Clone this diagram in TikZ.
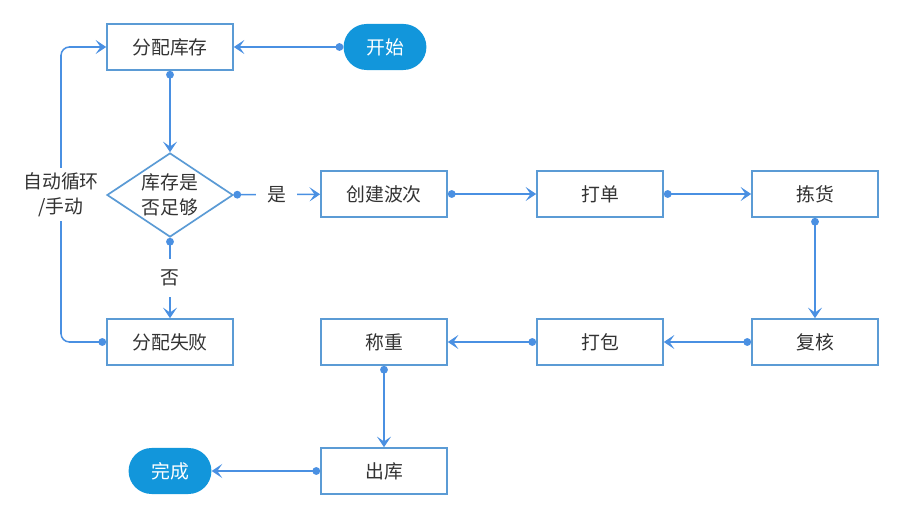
\documentclass[tikz,border=0pt]{standalone}
\usepackage{fontspec}
\setmainfont{Noto Sans CJK SC}
\usepackage{xcolor}
\usetikzlibrary{shapes.geometric,arrows.meta}
\definecolor{boxc}{RGB}{91,155,213}
\definecolor{linec}{RGB}{74,144,226}
\definecolor{pillc}{RGB}{18,150,219}
\definecolor{textc}{RGB}{51,51,51}

\begin{document}
\begin{tikzpicture}[x=0.025cm, y=-0.025cm,
    font=\fontsize{13.4pt}{18pt}\selectfont, text=textc,
    stepbox/.style={rectangle, draw=boxc, line width=1.2pt, fill=white, minimum width=3.15cm, minimum height=1.15cm},
    pill/.style={rectangle, rounded corners=0.575cm, fill=pillc, text=white, minimum width=2.07cm, minimum height=1.15cm},
    check/.style={diamond, draw=boxc, line width=1.2pt, fill=white, inner sep=0pt, shape aspect=1.5, minimum width=3.15cm, minimum height=2.1cm, align=center},
    flow/.style={draw=linec, line width=1.1pt, {Circle[length=5.5pt]}-{Stealth[length=7.5pt,width=10pt,inset=3.5pt]}},
    tag/.style={fill=white, inner sep=0.28cm},
    looptag/.style={fill=white, inner xsep=0.1cm, inner ysep=0.1cm, align=center}]
  \useasboundingbox (0,0) rectangle (912,517);
  % Draw nodes
  \node[stepbox] (alloc) at (170, 47) {分配库存};
  \node[pill] (start) at (385, 47) {开始};
  \node[check] (enough) at (170, 195) {库存是\\否足够};
  \node[stepbox] (wave) at (384, 194) {创建波次};
  \node[stepbox] (print) at (600, 194) {打单};
  \node[stepbox] (pick) at (815, 194) {拣货};
  \node[stepbox] (fail) at (170, 342) {分配失败};
  \node[stepbox] (weigh) at (384, 342) {称重};
  \node[stepbox] (pack) at (600, 342) {打包};
  \node[stepbox] (review) at (815, 342) {复核};
  \node[stepbox] (out) at (384, 471) {出库};
  \node[pill] (done) at (170, 471) {完成};
  \coordinate (loopbot) at (61, 342);
  \coordinate (looptop) at (61, 47);

  % Draw edges
  \draw[flow] (start) -- (alloc);
  \draw[flow] (alloc) -- (enough);
  \draw[flow] (enough) -- node[tag] {是} (wave);
  \draw[flow] (enough) -- node[tag] {否} (fail);
  \draw[flow, rounded corners=6pt] (fail.west) -- (loopbot) -- node[looptag] {自动循环\\/手动} (looptop) -- (alloc.west);
  \draw[flow] (wave) -- (print);
  \draw[flow] (print) -- (pick);
  \draw[flow] (pick) -- (review);
  \draw[flow] (review) -- (pack);
  \draw[flow] (pack) -- (weigh);
  \draw[flow] (weigh) -- (out);
  \draw[flow] (out) -- (done);
\end{tikzpicture}
\end{document}
